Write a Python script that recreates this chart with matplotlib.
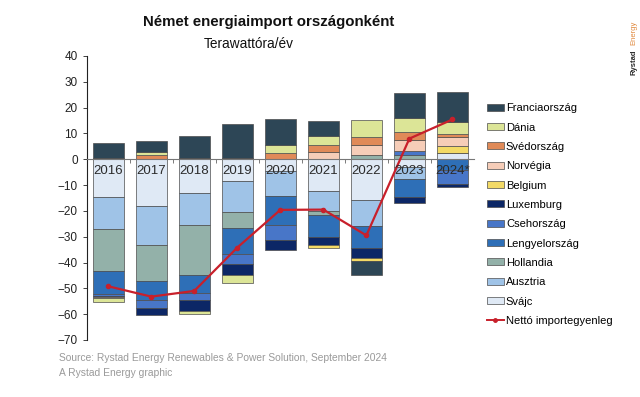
import matplotlib
matplotlib.use('Agg')
import matplotlib.pyplot as plt
from matplotlib import font_manager
import numpy as np
from matplotlib.patches import Patch
from matplotlib.lines import Line2D

plt.rcParams['font.family'] = ['Liberation Sans', 'DejaVu Sans']

years = ['2016', '2017', '2018', '2019', '2020', '2021', '2022', '2023', '2024*']

# TWh/year per country (negative = export)
svajc = [-14.7, -18.0, -13.2, -8.3, -4.5, -12.4, -15.6, -3.0, 2.5]
ausztria = [-12.5, -15.3, -12.1, -12.2, -9.9, -7.7, -10.3, -4.7, 0]
hollandia = [-16.0, -13.9, -19.6, -6.2, 0, -1.4, 1.7, 1.5, 0]
lengyelorszag = [-9.0, -7.4, -7.0, -10.1, -11.0, -8.6, -8.5, -7.0, -4.0]
csehorszag = [-0.8, -3.2, -2.6, -3.8, -6.0, 0, 0, 1.6, -5.6]
luxemburg = [-0.4, -2.5, -4.2, -4.3, -3.9, -3.2, -3.7, -2.3, -1.3]
belgium = [0, 0, 0, 0, 0, -0.9, -1.4, 0, 2.5]
norvegia = [-0.4, 0, 0, 0, 0, 2.8, 3.8, 4.2, 3.7]
svedorszag = [0.5, 1.6, 0.5, 0.5, 2.6, 2.6, 3.2, 3.2, 1.2]
dania = [-1.6, 1.2, -1.3, -3.2, 2.8, 3.6, 6.4, 5.5, 4.5]
franciaorszag = [5.7, 4.1, 8.7, 13.3, 10.0, 5.7, -5.4, 9.6, 11.8]
netto = [-49.2, -53.2, -51.0, -34.2, -19.6, -19.5, -29.5, 8.0, 15.4]

# stacking order, bottom (nearest zero) first
series = [
    ('Svájc', svajc, '#dfe9f5'),
    ('Ausztria', ausztria, '#9fc3e7'),
    ('Hollandia', hollandia, '#93b1a9'),
    ('Lengyelország', lengyelorszag, '#2e6fb7'),
    ('Csehország', csehorszag, '#4876c8'),
    ('Luxemburg', luxemburg, '#0c2766'),
    ('Belgium', belgium, '#f3da66'),
    ('Norvégia', norvegia, '#f6cdb8'),
    ('Svédország', svedorszag, '#e08a58'),
    ('Dánia', dania, '#dce597'),
    ('Franciaország', franciaorszag, '#2d4656'),
]

# title looks condensed; use the narrow face if it is there
try:
    font_manager.findfont('Liberation Sans Narrow', fallback_to_default=False)
    title_font, title_size = 'Liberation Sans Narrow', 13.5
except ValueError:
    title_font, title_size = 'Liberation Sans', 10.8

fig = plt.figure(figsize=(6.4, 3.97), dpi=100)
ax = fig.add_axes([0.1355, 0.1436, 0.605, 0.7154])

x = np.arange(len(years))
pos_base = np.zeros(len(years))
neg_base = np.zeros(len(years))
for name, vals, col in series:
    v = np.array(vals, dtype=float)
    base = np.where(v >= 0, pos_base, neg_base)
    ax.bar(x, v, bottom=base, width=0.71, color=col,
           edgecolor='#4d4d4d', linewidth=0.5, zorder=2)
    pos_base += np.where(v >= 0, v, 0)
    neg_base += np.where(v < 0, v, 0)

ax.plot(x, netto, color='#c8202b', linewidth=1.6, marker='o',
        markersize=3, zorder=4)

for i, y in enumerate(years):
    ax.text(i, -4.6, y, ha='center', va='center', fontsize=9.5,
            color='#2b2b2b', zorder=5)

ax.set_xlim(-0.5, len(years) - 0.5)
ax.set_ylim(-70, 40)
ax.set_yticks(range(-70, 41, 10))
ax.tick_params(axis='y', labelsize=8.5, length=3, width=0.6, colors='#222222')
ax.set_xticks(np.arange(len(years) - 1) + 0.5)
ax.set_xticklabels([])
ax.tick_params(axis='x', length=3, width=0.6, colors='#666666')

ax.spines['top'].set_visible(False)
ax.spines['right'].set_visible(False)
ax.spines['bottom'].set_position(('data', 0))
ax.spines['bottom'].set_color('#777777')
ax.spines['bottom'].set_linewidth(0.8)
ax.spines['bottom'].set_zorder(3)
ax.spines['left'].set_color('#222222')
ax.spines['left'].set_linewidth(0.8)

# legend: top entry is the last stacked series
handles = [Patch(facecolor=col, edgecolor='#4d4d4d', linewidth=0.5)
           for name, vals, col in series[::-1]]
labels = [name for name, vals, col in series[::-1]]
handles.append(Line2D([], [], color='#c8202b', linewidth=1.4, marker='o',
                      markersize=2.5))
labels.append('Nettó importegyenleg')
fig.legend(handles, labels, loc='upper left', bbox_to_anchor=(0.761, 0.74),
           frameon=False, fontsize=8, labelspacing=0.84, handlelength=1.5,
           handleheight=0.6, handletextpad=0.2, borderaxespad=0, borderpad=0)

fig.text(0.419, 0.945, 'Német energiaimport országonként', ha='center',
         va='center', fontsize=title_size, fontweight='bold',
         family=[title_font, 'DejaVu Sans'], color='#111111')
fig.text(0.389, 0.889, 'Terawattóra/év', ha='center', va='center',
         fontsize=9.8, color='#111111')

fig.text(0.092, 0.097, 'Source: Rystad Energy Renewables & Power Solution, September 2024',
         ha='left', va='center', fontsize=7.4, color='#9a9a9a')
fig.text(0.092, 0.06, 'A Rystad Energy graphic', ha='left', va='center',
         fontsize=7.4, color='#9a9a9a')

fig.text(0.99, 0.811, 'Rystad', rotation=90, ha='center', va='bottom',
         fontsize=5.5, fontweight='bold', color='#2b2b2b')
fig.text(0.99, 0.887, 'Energy', rotation=90, ha='center', va='bottom',
         fontsize=5.5, color='#e0893e')

plt.savefig('out.png', dpi=100)
